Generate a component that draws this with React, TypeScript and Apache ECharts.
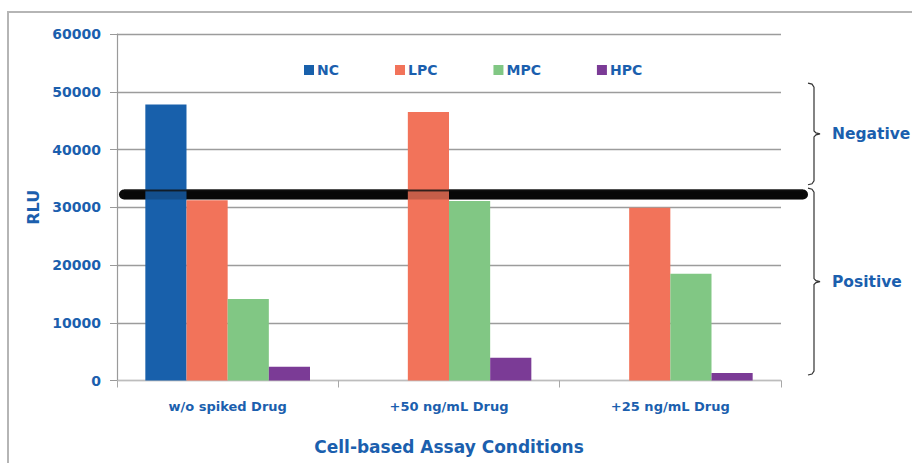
import React, { useEffect, useRef } from "react";
import * as echarts from "echarts";

const categories = ["w/o spiked Drug", "+50 ng/mL Drug", "+25 ng/mL Drug"];
const seriesNames = ["NC", "LPC", "MPC", "HPC"];
const ncValues = [47800, 0, 0];
const lpcValues = [31200, 46500, 29900];
const mpcValues = [14100, 31100, 18500];
const hpcValues = [2400, 3950, 1300];
const yTicks = [0, 10000, 20000, 30000, 40000, 50000, 60000];
const thresholdRLU = 32200;
const braceNegative = [51500, 33900];
const bracePositive = [33300, 950];
const braceLabels = ["Negative", "Positive"];

const BLUE = "#1b5fae";
const colors = ["#1860ab", "#f2735a", "#81c784", "#7b3b96"];
const FONT = "DejaVu Sans";

export default function App() {
  const ref = useRef<HTMLDivElement>(null);
  useEffect(() => {
    if (!ref.current) return;
    const chart = echarts.init(ref.current, null, { renderer: "svg" });
    const values = [ncValues, lpcValues, mpcValues, hpcValues];
    chart.setOption({
      animation: false,
      backgroundColor: "#ffffff",
      grid: { left: 117, right: 131, top: 34, height: 346.5, containLabel: false },
      legend: {
        data: seriesNames,
        left: 299,
        top: 58,
        itemGap: 56,
        itemWidth: 10,
        itemHeight: 10,
        icon: "rect",
        textStyle: { color: BLUE, fontFamily: FONT, fontWeight: "bold", fontSize: 14, padding: [0, 0, 0, -2] },
      },
      xAxis: {
        type: "category",
        data: categories,
        name: "Cell-based Assay Conditions",
        nameLocation: "middle",
        nameGap: 58,
        nameTextStyle: { color: BLUE, fontFamily: FONT, fontWeight: "bold", fontSize: 17 },
        axisLine: { lineStyle: { color: "#bdbdbd", width: 1 } },
        axisTick: { show: true, length: 7, lineStyle: { color: "#a8a8a8" } },
        axisLabel: { color: BLUE, fontFamily: FONT, fontWeight: "bold", fontSize: 13, margin: 19 },
      },
      yAxis: {
        type: "value",
        min: yTicks[0],
        max: yTicks[yTicks.length - 1],
        interval: yTicks[1] - yTicks[0],
        name: "RLU",
        nameLocation: "middle",
        nameGap: 73,
        nameRotate: 90,
        nameTextStyle: { color: BLUE, fontFamily: FONT, fontWeight: "bold", fontSize: 16 },
        axisLine: { show: true, lineStyle: { color: "#9a9a9a", width: 1.2 } },
        axisTick: { show: true, length: 7, lineStyle: { color: "#9a9a9a" } },
        axisLabel: {
          color: BLUE,
          fontFamily: FONT,
          fontWeight: "bold",
          fontSize: 14,
          margin: 16,
          formatter: (v: number) => String(v),
        },
        splitLine: { lineStyle: { color: "#9c9c9c", width: 1.3 } },
      },
      series: seriesNames.map((name, i) => ({
        name,
        type: "bar",
        data: values[i],
        barGap: "0%",
        barCategoryGap: "25.6%",
        itemStyle: { color: colors[i] },
        z: 2,
      })),
    });

    const yPx = (v: number) => chart.convertToPixel({ yAxisIndex: 0 }, v) as number;
    const ty = yPx(thresholdRLU);
    const brace = (top: number, bottom: number) => {
      const mid = (top + bottom) / 2;
      return [
        [808, top],
        [812, top + 1],
        [814, top + 4],
        [814, mid - 3],
        [816, mid - 1],
        [820, mid],
        [816, mid + 1],
        [814, mid + 3],
        [814, bottom - 4],
        [812, bottom - 1],
        [808, bottom],
      ];
    };
    const braces = [braceNegative, bracePositive];
    chart.setOption({
      graphic: [
        {
          type: "rect",
          shape: { x: 8, y: 12, width: 1000, height: 1000 },
          style: { fill: "none", stroke: "#b5b5b5", lineWidth: 2 },
          z: 0,
          silent: true,
        },
        {
          type: "line",
          shape: { x1: 124, y1: ty, x2: 803, y2: ty },
          style: { stroke: "#0a0a0a", lineWidth: 10, lineCap: "round" },
          z: 1,
          silent: true,
        },
        {
          type: "line",
          shape: { x1: 124, y1: ty - 4, x2: 803, y2: ty - 4 },
          style: { stroke: "#111111", lineWidth: 2, opacity: 0.85 },
          z: 5,
          silent: true,
        },
        {
          type: "line",
          shape: { x1: 124, y1: ty + 1, x2: 803, y2: ty + 1 },
          style: { stroke: "#000000", lineWidth: 8, opacity: 0.18 },
          z: 5,
          silent: true,
        },
        ...braces.map((b) => ({
          type: "polyline",
          shape: { points: brace(yPx(b[0]), yPx(b[1])) },
          style: { stroke: "#333333", lineWidth: 1.2, fill: "none" },
          z: 5,
          silent: true,
        })),
        ...braces.map((b, i) => ({
          type: "text",
          x: 832,
          y: (yPx(b[0]) + yPx(b[1])) / 2,
          style: {
            text: braceLabels[i],
            fill: BLUE,
            font: `bold 15.5px "${FONT}"`,
            verticalAlign: "middle",
            align: "left",
          },
          z: 5,
          silent: true,
        })),
      ],
    });
    return () => chart.dispose();
  }, []);
  return (
    <div
      ref={ref}
      style={{ position: "absolute", left: 0, top: 0, width: 912, height: 463 }}
    />
  );
}
